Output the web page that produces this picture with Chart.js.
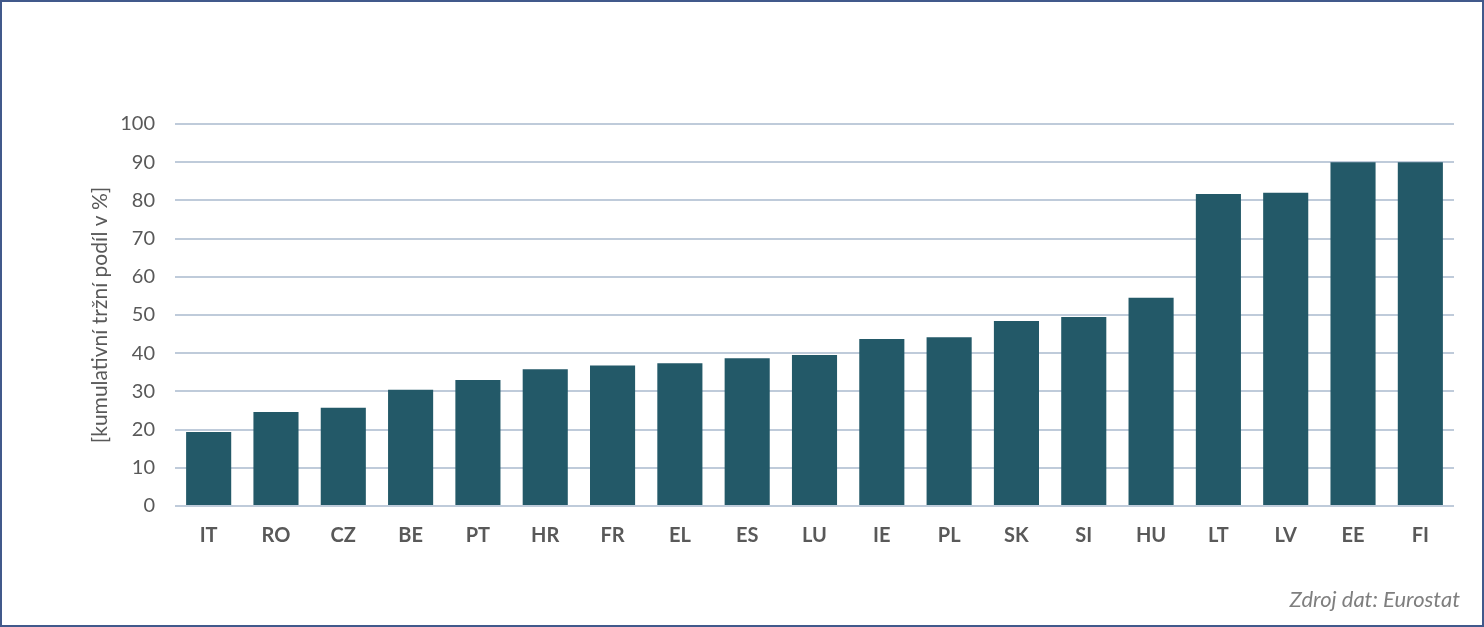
<!DOCTYPE html>
<html>
<head>
<meta charset="utf-8">
<script src="https://cdn.jsdelivr.net/npm/chart.js@4"></script>
<style>
  html, body { margin: 0; padding: 0; background: #fff; }
  #wrap { width: 1484px; height: 627px; position: relative; }
</style>
</head>
<body>
<div id="wrap"><canvas id="shareChart" width="1484" height="627"></canvas></div>
<script>
var countries = ['IT', 'RO', 'CZ', 'BE', 'PT', 'HR', 'FR', 'EL', 'ES', 'LU', 'IE', 'PL', 'SK', 'SI', 'HU', 'LT', 'LV', 'EE', 'FI'];
var shareValues = [19.4, 24.6, 25.7, 30.4, 33.0, 35.8, 36.8, 37.4, 38.7, 39.5, 43.7, 44.2, 48.4, 49.5, 54.5, 81.7, 82.0, 90.0, 90.0];
var yTicks = [0, 10, 20, 30, 40, 50, 60, 70, 80, 90, 100];
var axisTitle = '[kumulativní tržní podíl v %]';
var sourceNote = 'Zdroj dat: Eurostat';

// frame round the figure + source note bottom right
var framePlugin = {
    id: 'frame',
    afterDraw: function (chart) {
        var ctx = chart.ctx;
        ctx.save();
        ctx.strokeStyle = '#41598B';
        ctx.lineWidth = 2;
        ctx.strokeRect(1, 1, chart.width - 2, chart.height - 2);
        ctx.font = 'italic 22px Lato';
        ctx.fillStyle = '#7F7F7F';
        ctx.textAlign = 'right';
        ctx.textBaseline = 'alphabetic';
        ctx.fillText(sourceNote, chart.width - 24, 607);
        ctx.restore();
    }
};

var ctx = document.getElementById('shareChart').getContext('2d');
var chart = new Chart(ctx, {
    type: 'bar',
    data: {
        labels: countries,
        datasets: [{
            data: shareValues,
            backgroundColor: '#235968',
            borderWidth: 0,
            categoryPercentage: 1,
            barPercentage: 0.67
        }]
    },
    options: {
        responsive: false,
        animation: false,
        layout: {
            padding: { left: 88, right: 30, top: 124, bottom: 0 }
        },
        plugins: {
            legend: { display: false },
            tooltip: { enabled: false }
        },
        scales: {
            x: {
                grid: { display: false },
                border: { display: false },
                ticks: {
                    color: '#595959',
                    font: { family: 'Lato', size: 20, weight: 'bold' },
                    padding: 10,
                    maxRotation: 0
                },
                afterFit: function (scale) { scale.height = 121; }
            },
            y: {
                min: 0,
                max: 100,
                afterBuildTicks: function (scale) {
                    scale.ticks = yTicks.map(function (v) { return { value: v }; });
                },
                grid: { color: '#BFCBDA', lineWidth: 2, drawTicks: false },
                border: { display: false },
                ticks: {
                    color: '#595959',
                    font: { family: 'Lato', size: 20 },
                    padding: 20
                },
                title: {
                    display: true,
                    text: axisTitle,
                    color: '#595959',
                    font: { family: 'Lato', size: 21 },
                    padding: { top: 0, bottom: 0 }
                },
                afterFit: function (scale) { scale.width = 87; }
            }
        }
    },
    plugins: [framePlugin]
});
</script>
</body>
</html>
